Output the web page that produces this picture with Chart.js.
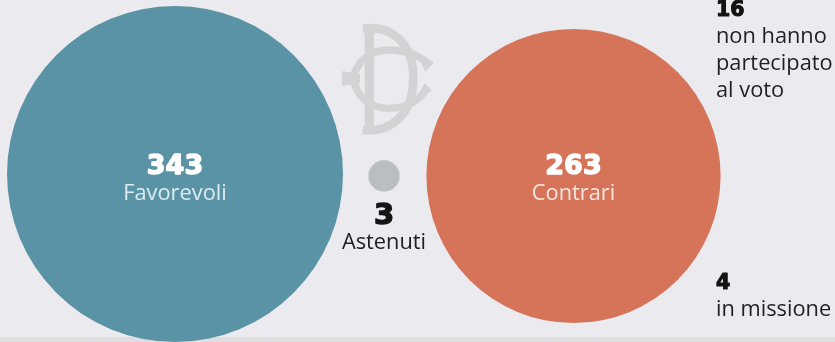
<!DOCTYPE html>
<html>
<head>
<meta charset="utf-8">
<script src="https://cdn.jsdelivr.net/npm/chart.js@4"></script>
<style>
  html, body { margin: 0; padding: 0; background: #ebeaee; overflow: hidden; }
  #wrap { position: relative; width: 835px; height: 342px; }
  #band { position: absolute; left: 0; right: 0; top: 337px; height: 5px; background: #dedddf; }
  #logo { position: absolute; left: 330px; top: 0; width: 120px; height: 140px; }
  canvas { position: absolute; left: 0; top: 0; }
</style>
</head>
<body>
<div id="wrap">
  <div id="band"></div>
  <!-- Crossed D and C monogram behind the circles -->
  <svg id="logo" viewBox="0 0 360 420" fill="none" stroke="#d3d3d6" stroke-linecap="butt">
    <path d="M118 85V388" stroke-width="28"/>
    <path d="M98 86C180 74 250 125 250 235C250 345 180 400 98 390" stroke-width="26"/>
    <path d="M302 198C270 165 230 150 175 150C115 150 78 190 70 236C78 285 115 325 175 325C225 325 268 305 292 262" stroke-width="22"/>
    <path d="M36 214L90 222V250L36 258Z" fill="#d3d3d6" stroke="none"/>
    <path d="M262 165L312 186L286 216Z" fill="#d3d3d6" stroke="none"/>
    <path d="M262 290L284 250L306 272Z" fill="#d3d3d6" stroke="none"/>
  </svg>
  <canvas id="chart" width="835" height="342"></canvas>
</div>
<script>
// Vote counts with the labels printed next to them
const voteLabels = ['Favorevoli', 'Astenuti', 'Contrari'];
const voteValues = [343, 3, 263];
const voteColors = ['#5a93a5', '#b9bfc1', '#d57459'];

// Horizontal and vertical centres on the hidden page-sized axes
const xCentres = [175, 384, 573.5];
const yCentres = [174, 176, 176];

// Members who cast no vote, listed in the right-hand margin
const sideValues = ['16', '4'];
const sideLines = [['non hanno', 'partecipato', 'al voto'], ['in missione']];

// Circle area is proportional to the count
const RADIUS_PER_ROOT = 9.07;

const TEXT_FONT = '"Open Sans", "Noto Sans", sans-serif';
const NUMBER_FONT = '"DejaVu Sans", sans-serif';

const captions = {
  id: 'captions',
  afterDatasetsDraw(chart) {
    const { ctx, scales: { x, y } } = chart;
    const put = (text, px, py, font, color, align, weight = 0) => {
      ctx.font = font;
      ctx.fillStyle = color;
      ctx.textAlign = align;
      ctx.textBaseline = 'alphabetic';
      const tx = x.getPixelForValue(px);
      const ty = y.getPixelForValue(py);
      ctx.fillText(text, tx, ty);
      // A thin outline gives the figures their extra-bold look
      if (weight) {
        ctx.strokeStyle = color;
        ctx.lineWidth = weight;
        ctx.lineJoin = 'round';
        ctx.strokeText(text, tx, ty);
      }
    };
    ctx.save();
    const big = `700 27px ${NUMBER_FONT}`;
    const small = `700 20.5px ${NUMBER_FONT}`;
    const plain = `400 21.8px ${TEXT_FONT}`;
    const dark = '#141416';
    const body = '#1f1f21';
    // Labels inside the two large circles
    put(String(voteValues[0]), xCentres[0], 173.5, big, '#ffffff', 'center', 1.4);
    put(voteLabels[0], xCentres[0], 200, plain, '#dcedf1', 'center');
    put(String(voteValues[2]), xCentres[2], 173.5, big, '#ffffff', 'center', 1.4);
    put(voteLabels[2], xCentres[2], 200, plain, '#fbe6df', 'center');
    // Abstentions sit underneath their small circle
    put(String(voteValues[1]), xCentres[1], 224, `700 29px ${NUMBER_FONT}`, dark, 'center', 1.4);
    put(voteLabels[1], xCentres[1], 249, plain, body, 'center');
    // Right-hand margin
    put(sideValues[0], 716, 16, small, dark, 'left', 1.1);
    sideLines[0].forEach((line, i) => put(line, 716, 43 + i * 27, plain, body, 'left'));
    put(sideValues[1], 716, 289, small, dark, 'left', 1.1);
    sideLines[1].forEach((line, i) => put(line, 716, 316 + i * 27, plain, body, 'left'));
    ctx.restore();
  }
};

new Chart(document.getElementById('chart'), {
  type: 'bubble',
  data: {
    labels: voteLabels,
    datasets: [{
      data: voteValues.map((v, i) => ({ x: xCentres[i], y: yCentres[i], v })),
      backgroundColor: voteColors,
      borderWidth: 0,
      hoverBorderWidth: 0,
      radius: ctx => RADIUS_PER_ROOT * Math.sqrt(ctx.raw.v),
      clip: false
    }]
  },
  options: {
    responsive: false,
    animation: false,
    layout: { padding: 0, autoPadding: false },
    plugins: { legend: { display: false }, tooltip: { enabled: false } },
    scales: {
      x: { type: 'linear', display: false, min: 0, max: 835 },
      y: { type: 'linear', display: false, min: 0, max: 342, reverse: true }
    }
  },
  plugins: [captions]
});
</script>
</body>
</html>
